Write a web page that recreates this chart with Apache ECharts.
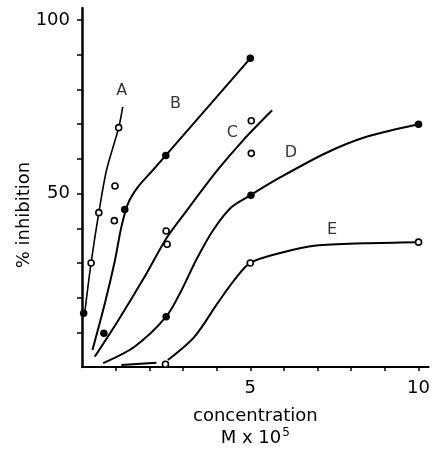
<!DOCTYPE html>
<html>
<head>
<meta charset="utf-8">
<script src="https://cdn.jsdelivr.net/npm/echarts@6/dist/echarts.min.js"></script>
<style>
  html, body { margin: 0; padding: 0; background: #fff; }
  #chart { width: 433px; height: 454px; }
</style>
</head>
<body>
<div id="chart"></div>
<script>
// curve waypoints, concentration (M x 10^5) vs % inhibition
const curveA = [[0.08, 15.5], [0.27, 30], [0.5, 44.5], [0.73, 56.8], [1.09, 69], [1.21, 75]];
const curveB = [[0.31, 4.9], [0.68, 18.4], [0.98, 30.8], [1.17, 40.4], [1.37, 47.2], [1.67, 52], [2.11, 56.8], [2.49, 61], [5.0, 89]];
const curveC = [[0.38, 3], [1.08, 13.5], [1.86, 26], [2.5, 37], [3.05, 44.3], [4.03, 56.8], [4.8, 65.5], [5.65, 74]];
const curveD = [[0.63, 1.1], [1.57, 5.9], [2.5, 14.5], [2.95, 22], [3.4, 31], [3.9, 39.5], [4.43, 46], [5.0, 49.5], [5.86, 54.5], [7.25, 61.7], [8.43, 66.3], [10.0, 70]];
const curveETail = [[1.17, 0.6], [2.21, 1.2]];
const curveE = [[2.55, 2], [3.34, 8.7], [4.03, 18.4], [4.53, 25.1], [5.0, 30], [5.95, 33], [6.95, 35], [8.4, 35.7], [10.0, 36]];

const openPoints = [[0.27, 30], [0.5, 44.5], [0.96, 42.2], [0.98, 52.2], [1.09, 69], [2.5, 39.2], [2.53, 35.4],
                    [5.03, 71], [5.03, 61.6], [2.48, 0.8], [5.0, 30], [10.0, 36]];
const filledPoints = [[0.05, 15.5], [0.65, 9.7], [1.27, 45.4], [2.49, 61], [5.0, 89], [2.5, 14.5], [5.02, 49.5], [10.0, 70]];

const curveNames = ['A', 'B', 'C', 'D', 'E'];
const curveNameX = [1.18, 2.78, 4.47, 6.21, 7.43];
const curveNameY = [79.5, 76, 67.4, 61.7, 39.5];

const xTicks = [1, 2, 3, 4, 5, 6, 7, 8, 9, 10];
const xLabels = [5, 10];
const yTicks = [10, 20, 30, 40, 50, 60, 70, 80, 90, 100];
const yLabels = [50, 100];

const font = 'DejaVu Sans, sans-serif';

var chart = echarts.init(document.getElementById('chart'), null, {renderer: 'canvas'});

function curve(data, width) {
    return {
        type: 'line',
        data: data,
        smooth: 0.3,
        showSymbol: false,
        silent: true,
        lineStyle: {color: '#000', width: width || 2},
        z: 2
    };
}

let option = {
    animation: false,
    backgroundColor: '#fff',
    grid: {left: 82, right: 3, top: 8, bottom: 87},
    xAxis: {
        type: 'value',
        min: 0,
        max: 10.3,
        splitLine: {show: false},
        axisLine: {onZero: false, lineStyle: {color: '#000', width: 2}},
        axisTick: {show: true, customValues: xTicks, length: 4, lineStyle: {color: '#000', width: 1.5}},
        axisLabel: {customValues: xLabels, margin: 12, color: '#000', fontFamily: font, fontSize: 18},
        name: '{a|concentration}\n{b|M x 10}{s|5}',
        nameLocation: 'middle',
        nameGap: 38,
        nameTextStyle: {
            color: '#000',
            fontFamily: font,
            rich: {
                a: {fontFamily: font, fontSize: 18, color: '#000', lineHeight: 22},
                b: {fontFamily: font, fontSize: 18, color: '#000', lineHeight: 22},
                s: {fontFamily: font, fontSize: 12, color: '#000', verticalAlign: 'top', lineHeight: 22, padding: [0, 0, 8, 1]}
            }
        }
    },
    yAxis: {
        type: 'value',
        min: 0,
        max: 103.5,
        splitLine: {show: false},
        axisLine: {onZero: false, lineStyle: {color: '#000', width: 2.5}},
        axisTick: {show: true, customValues: yTicks, length: 5, lineStyle: {color: '#000', width: 1.5}},
        axisLabel: {customValues: yLabels, margin: 12, color: '#000', fontFamily: font, fontSize: 18}
    },
    graphic: [
        {
            type: 'text',
            x: 24,
            y: 215,
            rotation: Math.PI / 2,
            style: {
                text: '% inhibition',
                fill: '#000',
                font: '18px ' + font,
                align: 'center',
                verticalAlign: 'middle'
            }
        }
    ],
    series: [
        curve(curveA, 1.6),
        curve(curveB),
        curve(curveC),
        curve(curveD),
        curve(curveETail),
        curve(curveE),
        {
            type: 'scatter',
            data: openPoints,
            symbol: 'circle',
            symbolSize: 6,
            itemStyle: {color: '#fff', borderColor: '#000', borderWidth: 1.6, opacity: 1},
            z: 4
        },
        {
            type: 'scatter',
            data: filledPoints,
            symbol: 'circle',
            symbolSize: 7.5,
            itemStyle: {color: '#000', opacity: 1},
            z: 4
        },
        {
            type: 'scatter',
            data: curveNames.map((n, i) => ({name: n, value: [curveNameX[i], curveNameY[i]]})),
            symbolSize: 0,
            silent: true,
            label: {
                show: true,
                position: 'inside',
                formatter: (p) => p.name,
                color: '#000',
                fontFamily: font,
                fontSize: 16,
                fontWeight: 500
            },
            z: 5
        }
    ]
};

chart.setOption(option);
</script>
</body>
</html>
